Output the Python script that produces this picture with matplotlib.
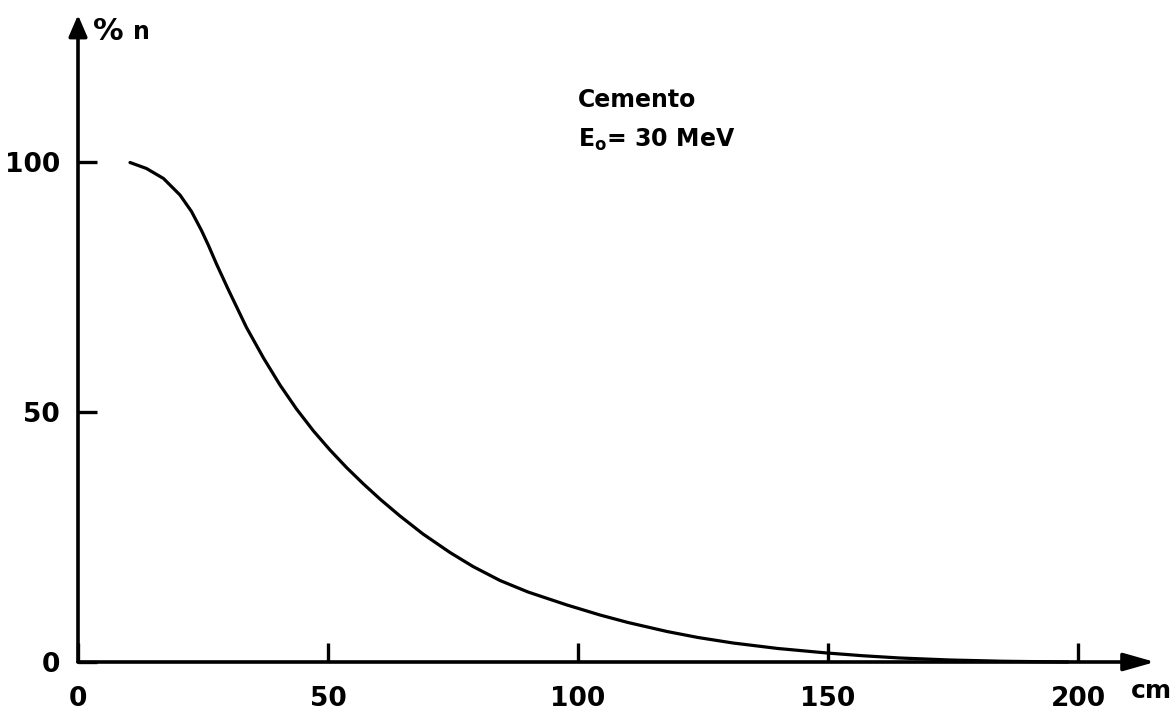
import matplotlib.pyplot as plt
import numpy as np

# neutron fraction vs. concrete thickness
depth_cm = [10.4, 13.7, 17.1, 20.4, 22.7, 24.7, 26.1, 27.7, 30.1, 33.7, 37.1,
            40.4, 43.7, 47.1, 50.4, 53.7, 57.1, 60.5, 64.4, 69.0, 74.4, 79.0,
            84.4, 90.0, 97.8, 104.4, 110.0, 117.8, 124.0, 131.0, 140.0, 149.8,
            157.0, 164.4, 174.4, 185.0, 198.0]
percent_n = [99.9, 98.7, 96.7, 93.4, 90.1, 86.3, 83.3, 79.6, 74.4, 66.9, 60.8,
             55.4, 50.6, 46.2, 42.4, 38.9, 35.6, 32.5, 29.2, 25.6, 21.9, 19.1,
             16.3, 14.0, 11.4, 9.4, 7.9, 6.1, 4.9, 3.8, 2.7, 1.8,
             1.25, 0.8, 0.4, 0.15, 0.0]
xticks = [0, 50, 100, 150, 200]
yticks = [0, 50, 100]

W, H = 1176, 711
fig = plt.figure(figsize=(W / 100, H / 100), dpi=100, facecolor="white")
# origin at pixel (78, 662), 5 px per unit on both axes
x0, y0, scale = 78, 662, 5.0
xmax = (W - x0) / scale
ymax = y0 / scale
ax = fig.add_axes([x0 / W, (H - y0) / H, (W - x0) / W, y0 / H])
ax.set_xlim(0, xmax)
ax.set_ylim(0, ymax)
for s in ax.spines.values():
    s.set_visible(False)

fs = 19
ax.set_xticks(xticks)
ax.set_yticks(yticks)
ax.set_xticklabels([str(v) for v in xticks], fontsize=fs, fontweight="bold")
ax.set_yticklabels([str(v) for v in yticks], fontsize=fs, fontweight="bold")
ax.tick_params(axis="x", direction="in", length=14, width=2.4, pad=17)
ax.tick_params(axis="y", direction="in", length=14, width=2.4, pad=13)

# axis arrows
ax.annotate("", xy=(215.4, 0), xytext=(0, 0),
            arrowprops=dict(arrowstyle="-|>,head_length=0.95,head_width=0.27",
                            lw=2.6, color="black", mutation_scale=20,
                            shrinkA=0, shrinkB=0),
            annotation_clip=False)
ax.annotate("", xy=(0, 129.4), xytext=(0, 0),
            arrowprops=dict(arrowstyle="-|>,head_length=0.65,head_width=0.28",
                            lw=2.6, color="black", mutation_scale=20,
                            shrinkA=0, shrinkB=0),
            annotation_clip=False)

ax.plot(depth_cm, percent_n, color="black", lw=2.3, solid_capstyle="round",
        solid_joinstyle="round", clip_on=False)

ax.text(214.6, -5.8, "cm", fontsize=fs - 1, fontweight="bold",
        ha="center", va="center", clip_on=False)
ax.text(3, 126, "%", fontsize=fs + 3, fontweight="bold",
        ha="left", va="center", clip_on=False)
ax.text(11, 126, "n", fontsize=fs - 2, fontweight="bold",
        ha="left", va="center", clip_on=False)
ax.text(100, 112.4, "Cemento", fontsize=fs - 2, fontweight="bold",
        ha="left", va="center")
ax.text(100, 104.5, r"E$_{\mathbf{o}}$= 30 MeV", fontsize=fs - 2,
        fontweight="bold", ha="left", va="center")

fig.savefig("out.png", dpi=100, facecolor="white")
